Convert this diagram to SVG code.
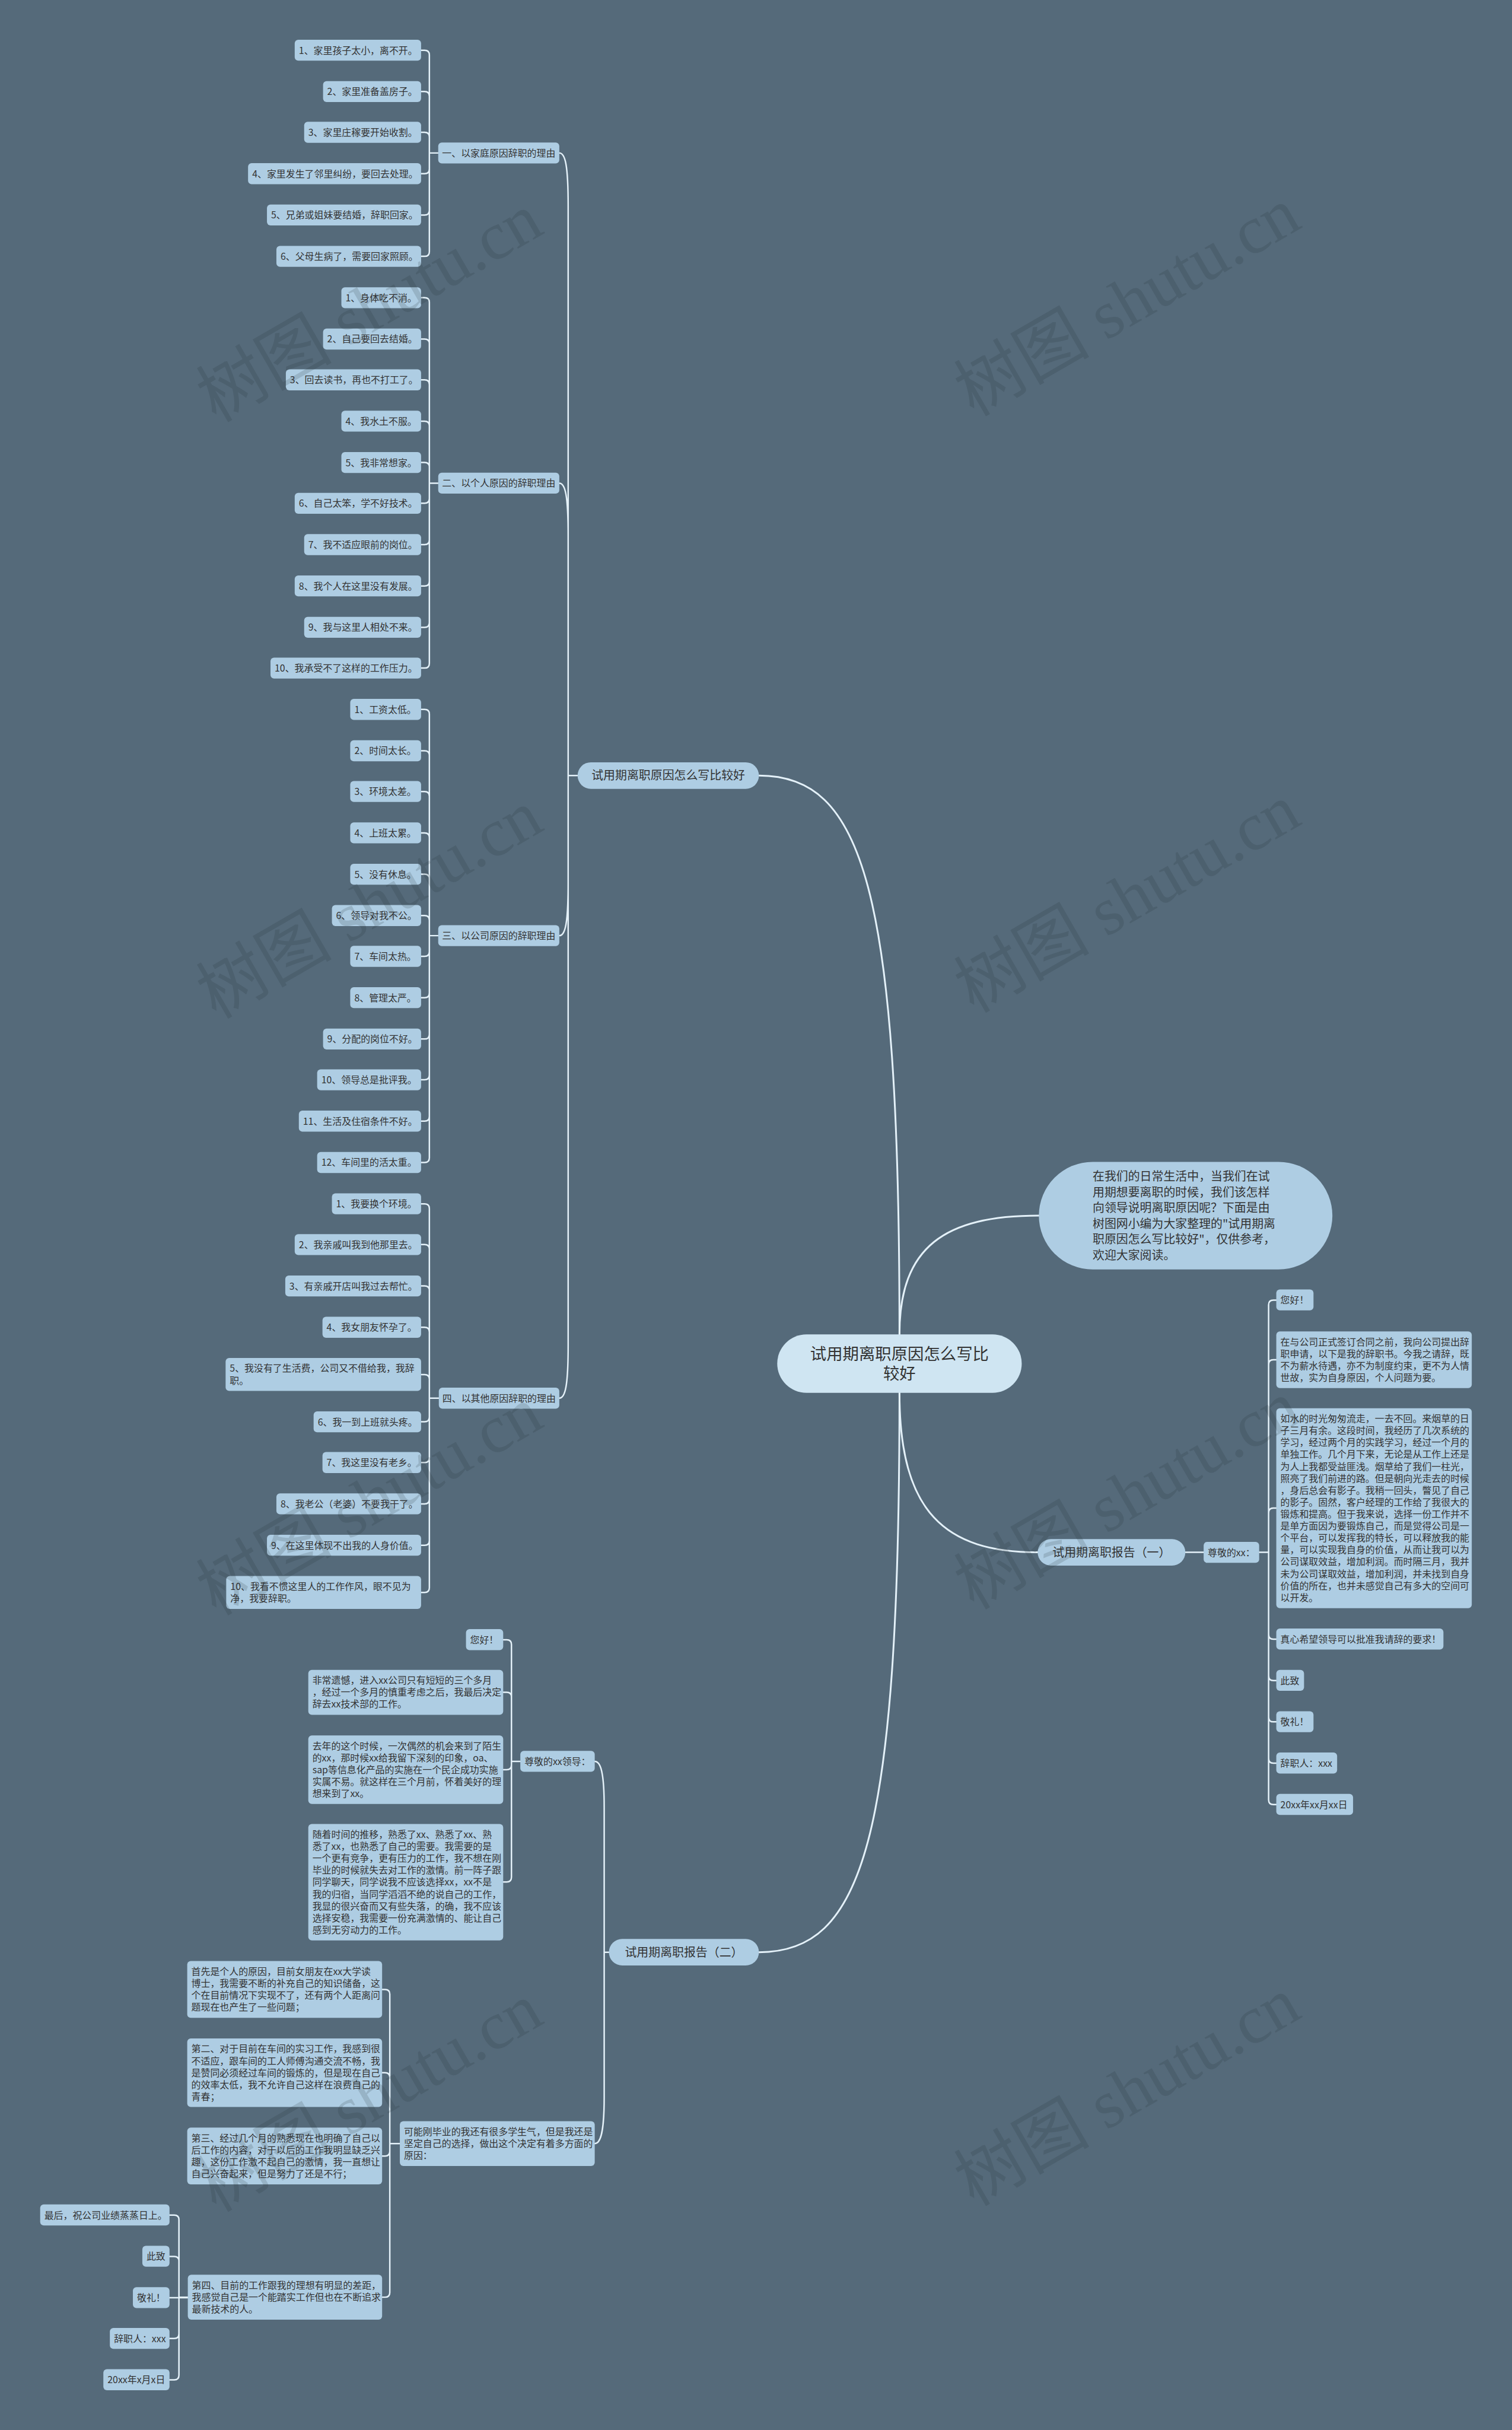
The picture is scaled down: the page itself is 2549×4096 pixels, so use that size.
<svg xmlns="http://www.w3.org/2000/svg" width="2549" height="4096" viewBox="0 0 2549 4096">
<style>
.t{font-family:"Noto Sans CJK SC","Liberation Sans",sans-serif;font-size:16px;fill:#333333}
.t20{font-family:"Noto Sans CJK SC","Liberation Sans",sans-serif;font-size:20px;fill:#333333}
.troot{font-family:"Noto Sans CJK SC","Liberation Sans",sans-serif;font-size:27.5px;fill:#333333}
.leaf{fill:#aecde3}
.root{fill:#cfe5f2}
.ln{fill:none;stroke:#e4f1f9;stroke-width:2.5;stroke-linecap:round}
.ln3{fill:none;stroke:#e4f1f9;stroke-width:3;stroke-linecap:round}
.wm{font-family:"Liberation Serif","Noto Sans CJK SC",serif;font-size:115px;fill:#1e2a33;fill-opacity:0.16}
</style>
<rect x="0" y="0" width="2549" height="4096" fill="#556a7a"/>
<g transform="scale(0.99566)">
<g id="connectors">
<path class="ln3" d="M1285 1313C1460 1313 1523 1500 1523 2259"/>
<path class="ln3" d="M1523 2259C1523 2110 1600 2058 1759 2058"/>
<path class="ln3" d="M1523 2358C1523 2560 1600 2628 1757 2628"/>
<path class="ln3" d="M1523 2358C1523 3120 1460 3305 1285 3305"/>
<path class="ln" d="M947 259C957 259 962 279 962 349V1313M947 818C957 818 962 838 962 908V1313M947 1584C957 1584 962 1564 962 1494V1313M947 2367C957 2367 962 2347 962 2277V1313M962 1313H978"/>
<path class="ln" d="M713 85H719Q727 85 727 93V259M713 155H719Q727 155 727 163V259M713 224H719Q727 224 727 232V259M713 294H719Q727 294 727 286V259M713 364H719Q727 364 727 356V259M713 434H719Q727 434 727 426V259M727 259H742"/>
<path class="ln" d="M713 504H719Q727 504 727 512V818M713 574H719Q727 574 727 582V818M713 643H719Q727 643 727 651V818M713 713H719Q727 713 727 721V818M713 783H719Q727 783 727 791V818M713 852H719Q727 852 727 844V818M713 922H719Q727 922 727 914V818M713 992H719Q727 992 727 984V818M713 1062H719Q727 1062 727 1054V818M713 1131H719Q727 1131 727 1123V818M727 818H742"/>
<path class="ln" d="M713 1201H719Q727 1201 727 1209V1584M713 1271H719Q727 1271 727 1279V1584M713 1340H719Q727 1340 727 1348V1584M713 1410H719Q727 1410 727 1418V1584M713 1480H719Q727 1480 727 1488V1584M713 1550H719Q727 1550 727 1558V1584M713 1619H719Q727 1619 727 1611V1584M713 1689H719Q727 1689 727 1681V1584M713 1759H719Q727 1759 727 1751V1584M713 1828H719Q727 1828 727 1820V1584M713 1898H719Q727 1898 727 1890V1584M713 1968H719Q727 1968 727 1960V1584M727 1584H742"/>
<path class="ln" d="M713 2038H719Q727 2038 727 2046V2367M713 2107H719Q727 2107 727 2115V2367M713 2177H719Q727 2177 727 2185V2367M713 2247H719Q727 2247 727 2255V2367M713 2327H719Q727 2327 727 2335V2367M713 2407H719Q727 2407 727 2399V2367M713 2476H719Q727 2476 727 2468V2367M713 2546H719Q727 2546 727 2538V2367M713 2616H719Q727 2616 727 2608V2367M713 2696H719Q727 2696 727 2688V2367M727 2367H743"/>
<path class="ln" d="M2007 2628H2038M2132 2628H2148M2161 2201H2156Q2148 2201 2148 2209V2628M2161 2302H2156Q2148 2302 2148 2310V2628M2161 2553H2156Q2148 2553 2148 2561V2628M2161 2775H2156Q2148 2775 2148 2767V2628M2161 2845H2156Q2148 2845 2148 2837V2628M2161 2915H2156Q2148 2915 2148 2907V2628M2161 2985H2156Q2148 2985 2148 2977V2628M2161 3055H2156Q2148 3055 2148 3047V2628"/>
<path class="ln" d="M1007 2982C1017 2982 1023 3000 1023 3060V3305M1007 3629C1017 3629 1023 3610 1023 3550V3305M1023 3305H1031"/>
<path class="ln" d="M852 2776H858Q866 2776 866 2784V2982M852 2865H858Q866 2865 866 2873V2982M852 2996H858Q866 2996 866 2988V2982M852 3186H858Q866 3186 866 3178V2982M866 2982H881"/>
<path class="ln" d="M647 3368H652Q660 3368 660 3376V3629M647 3509H652Q660 3509 660 3517V3629M647 3650H652Q660 3650 660 3642V3629M647 3889H652Q660 3889 660 3881V3629M660 3629H677"/>
<path class="ln" d="M287 3750H295Q303 3750 303 3758V3889M287 3820H295Q303 3820 303 3828V3889M287 3890H318M287 3959H295Q303 3959 303 3951V3889M287 4029H295Q303 4029 303 4021V3889M303 3889H318"/>
</g>

<g id="root"><rect class="root" x="1316" y="2259" width="414" height="99" rx="49.5"/><text class="troot" text-anchor="middle"><tspan x="1523" y="2301.5">试用期离职原因怎么写比</tspan><tspan x="1523" y="2335.5">较好</tspan></text></g>

<g id="intro"><rect class="leaf" x="1759" y="1967" width="497" height="182" rx="91"/><text class="t20"><tspan x="1850" y="1999">在我们的日常生活中，当我们在试</tspan><tspan x="1850" y="2025.6">用期想要离职的时候，我们该怎样</tspan><tspan x="1850" y="2052.2">向领导说明离职原因呢？下面是由</tspan><tspan x="1850" y="2078.8">树图网小编为大家整理的"试用期离</tspan><tspan x="1850" y="2105.4">职原因怎么写比较好"，仅供参考，</tspan><tspan x="1850" y="2132">欢迎大家阅读。</tspan></text></g>

<g id="l1-reasons"><rect class="leaf" x="978" y="1290.5" width="307" height="45" rx="22.5"/><text class="t20" x="1131.5" y="1320" text-anchor="middle">试用期离职原因怎么写比较好</text></g>
<g id="l1-report1"><rect class="leaf" x="1757" y="2605.5" width="250" height="45" rx="22.5"/><text class="t20" x="1882" y="2635" text-anchor="middle">试用期离职报告（一）</text></g>
<g id="l1-report2"><rect class="leaf" x="1031" y="3282.5" width="254" height="45" rx="22.5"/><text class="t20" x="1158" y="3312" text-anchor="middle">试用期离职报告（二）</text></g>

<g id="b1"><rect class="leaf" x="742" y="241.25" width="205" height="35.5" rx="6"/><text class="t" x="844.5" y="265" text-anchor="middle">一、以家庭原因辞职的理由</text></g>
<g id="b2"><rect class="leaf" x="742" y="800.25" width="205" height="35.5" rx="6"/><text class="t" x="844.5" y="824" text-anchor="middle">二、以个人原因的辞职理由</text></g>
<g id="b3"><rect class="leaf" x="742" y="1566.25" width="205" height="35.5" rx="6"/><text class="t" x="844.5" y="1590" text-anchor="middle">三、以公司原因的辞职理由</text></g>
<g id="b4"><rect class="leaf" x="743" y="2349.25" width="204" height="35.5" rx="6"/><text class="t" x="845" y="2373" text-anchor="middle">四、以其他原因辞职的理由</text></g>

<g id="b1-1"><rect class="leaf" x="499" y="67.25" width="214" height="35.5" rx="6"/><text class="t" x="506" y="91">1、家里孩子太小，离不开。</text></g>
<g id="b1-2"><rect class="leaf" x="547" y="137.25" width="166" height="35.5" rx="6"/><text class="t" x="554" y="161">2、家里准备盖房子。</text></g>
<g id="b1-3"><rect class="leaf" x="515" y="206.25" width="198" height="35.5" rx="6"/><text class="t" x="522" y="230">3、家里庄稼要开始收割。</text></g>
<g id="b1-4"><rect class="leaf" x="420" y="276.25" width="293" height="35.5" rx="6"/><text class="t" x="427" y="300">4、家里发生了邻里纠纷，要回去处理。</text></g>
<g id="b1-5"><rect class="leaf" x="452" y="346.25" width="261" height="35.5" rx="6"/><text class="t" x="459" y="370">5、兄弟或姐妹要结婚，辞职回家。</text></g>
<g id="b1-6"><rect class="leaf" x="468" y="416.25" width="245" height="35.5" rx="6"/><text class="t" x="475" y="440">6、父母生病了，需要回家照顾。</text></g>

<g id="b2-1"><rect class="leaf" x="578" y="486.25" width="135" height="35.5" rx="6"/><text class="t" x="585" y="510">1、身体吃不消。</text></g>
<g id="b2-2"><rect class="leaf" x="547" y="556.25" width="166" height="35.5" rx="6"/><text class="t" x="554" y="580">2、自己要回去结婚。</text></g>
<g id="b2-3"><rect class="leaf" x="484" y="625.25" width="229" height="35.5" rx="6"/><text class="t" x="491" y="649">3、回去读书，再也不打工了。</text></g>
<g id="b2-4"><rect class="leaf" x="578" y="695.25" width="135" height="35.5" rx="6"/><text class="t" x="585" y="719">4、我水土不服。</text></g>
<g id="b2-5"><rect class="leaf" x="578" y="765.25" width="135" height="35.5" rx="6"/><text class="t" x="585" y="789">5、我非常想家。</text></g>
<g id="b2-6"><rect class="leaf" x="499" y="834.25" width="214" height="35.5" rx="6"/><text class="t" x="506" y="858">6、自己太笨，学不好技术。</text></g>
<g id="b2-7"><rect class="leaf" x="515" y="904.25" width="198" height="35.5" rx="6"/><text class="t" x="522" y="928">7、我不适应眼前的岗位。</text></g>
<g id="b2-8"><rect class="leaf" x="499" y="974.25" width="214" height="35.5" rx="6"/><text class="t" x="506" y="998">8、我个人在这里没有发展。</text></g>
<g id="b2-9"><rect class="leaf" x="515" y="1044.25" width="198" height="35.5" rx="6"/><text class="t" x="522" y="1068">9、我与这里人相处不来。</text></g>
<g id="b2-10"><rect class="leaf" x="458" y="1113.25" width="255" height="35.5" rx="6"/><text class="t" x="465" y="1137">10、我承受不了这样的工作压力。</text></g>

<g id="b3-1"><rect class="leaf" x="593" y="1183.25" width="120" height="35.5" rx="6"/><text class="t" x="600" y="1207">1、工资太低。</text></g>
<g id="b3-2"><rect class="leaf" x="593" y="1253.25" width="120" height="35.5" rx="6"/><text class="t" x="600" y="1277">2、时间太长。</text></g>
<g id="b3-3"><rect class="leaf" x="593" y="1322.25" width="120" height="35.5" rx="6"/><text class="t" x="600" y="1346">3、环境太差。</text></g>
<g id="b3-4"><rect class="leaf" x="593" y="1392.25" width="120" height="35.5" rx="6"/><text class="t" x="600" y="1416">4、上班太累。</text></g>
<g id="b3-5"><rect class="leaf" x="593" y="1462.25" width="120" height="35.5" rx="6"/><text class="t" x="600" y="1486">5、没有休息。</text></g>
<g id="b3-6"><rect class="leaf" x="562" y="1532.25" width="151" height="35.5" rx="6"/><text class="t" x="569" y="1556">6、领导对我不公。</text></g>
<g id="b3-7"><rect class="leaf" x="593" y="1601.25" width="120" height="35.5" rx="6"/><text class="t" x="600" y="1625">7、车间太热。</text></g>
<g id="b3-8"><rect class="leaf" x="593" y="1671.25" width="120" height="35.5" rx="6"/><text class="t" x="600" y="1695">8、管理太严。</text></g>
<g id="b3-9"><rect class="leaf" x="547" y="1741.25" width="166" height="35.5" rx="6"/><text class="t" x="554" y="1765">9、分配的岗位不好。</text></g>
<g id="b3-10"><rect class="leaf" x="537" y="1810.25" width="176" height="35.5" rx="6"/><text class="t" x="544" y="1834">10、领导总是批评我。</text></g>
<g id="b3-11"><rect class="leaf" x="506" y="1880.25" width="207" height="35.5" rx="6"/><text class="t" x="513" y="1904">11、生活及住宿条件不好。</text></g>
<g id="b3-12"><rect class="leaf" x="537" y="1950.25" width="176" height="35.5" rx="6"/><text class="t" x="544" y="1974">12、车间里的活太重。</text></g>

<g id="b4-1"><rect class="leaf" x="562" y="2020.25" width="151" height="35.5" rx="6"/><text class="t" x="569" y="2044">1、我要换个环境。</text></g>
<g id="b4-2"><rect class="leaf" x="499" y="2089.25" width="214" height="35.5" rx="6"/><text class="t" x="506" y="2113">2、我亲戚叫我到他那里去。</text></g>
<g id="b4-3"><rect class="leaf" x="483" y="2159.25" width="230" height="35.5" rx="6"/><text class="t" x="490" y="2183">3、有亲戚开店叫我过去帮忙。</text></g>
<g id="b4-4"><rect class="leaf" x="546" y="2229.25" width="167" height="35.5" rx="6"/><text class="t" x="553" y="2253">4、我女朋友怀孕了。</text></g>
<g id="b4-5"><rect class="leaf" x="382" y="2299" width="331" height="55.7" rx="6"/><text class="t"><tspan x="389" y="2322.5">5、我没有了生活费，公司又不借给我，我辞</tspan><tspan x="389" y="2342.7">职。</tspan></text></g>
<g id="b4-6"><rect class="leaf" x="531" y="2389.25" width="182" height="35.5" rx="6"/><text class="t" x="538" y="2413">6、我一到上班就头疼。</text></g>
<g id="b4-7"><rect class="leaf" x="546" y="2458.25" width="167" height="35.5" rx="6"/><text class="t" x="553" y="2482">7、我这里没有老乡。</text></g>
<g id="b4-8"><rect class="leaf" x="468" y="2528.25" width="245" height="35.5" rx="6"/><text class="t" x="475" y="2552">8、我老公（老婆）不要我干了。</text></g>
<g id="b4-9"><rect class="leaf" x="452" y="2598.25" width="261" height="35.5" rx="6"/><text class="t" x="459" y="2622">9、在这里体现不出我的人身价值。</text></g>
<g id="b4-10"><rect class="leaf" x="383" y="2668" width="330" height="55.7" rx="6"/><text class="t"><tspan x="390" y="2691.5">10、我看不惯这里人的工作作风，眼不见为</tspan><tspan x="390" y="2711.7">净，我要辞职。</tspan></text></g>

<g id="r1-head"><rect class="leaf" x="2038" y="2610.25" width="94" height="35.5" rx="6"/><text class="t" x="2045" y="2634">尊敬的xx：</text></g>
<g id="r1-1"><rect class="leaf" x="2161" y="2183" width="63" height="35.5" rx="6"/><text class="t" x="2168" y="2207">您好！</text></g>
<g id="r1-2"><rect class="leaf" x="2161" y="2254" width="331" height="96" rx="6"/><text class="t"><tspan x="2168" y="2277.5">在与公司正式签订合同之前，我向公司提出辞</tspan><tspan x="2168" y="2297.7">职申请，以下是我的辞职书。今我之请辞，既</tspan><tspan x="2168" y="2317.9">不为薪水待遇，亦不为制度约束，更不为人情</tspan><tspan x="2168" y="2338.1">世故，实为自身原因，个人问题为要。</tspan></text></g>
<g id="r1-3"><rect class="leaf" x="2161" y="2384" width="331" height="338.5" rx="6"/><text class="t"><tspan x="2168" y="2407.5">如水的时光匆匆流走，一去不回。来烟草的日</tspan><tspan x="2168" y="2427.7">子三月有余。这段时间，我经历了几次系统的</tspan><tspan x="2168" y="2447.9">学习，经过两个月的实践学习，经过一个月的</tspan><tspan x="2168" y="2468.1">单独工作。几个月下来，无论是从工作上还是</tspan><tspan x="2168" y="2488.3">为人上我都受益匪浅。烟草给了我们一柱光，</tspan><tspan x="2168" y="2508.5">照亮了我们前进的路。但是朝向光走去的时候</tspan><tspan x="2168" y="2528.7">，身后总会有影子。我稍一回头，瞥见了自己</tspan><tspan x="2168" y="2548.9">的影子。固然，客户经理的工作给了我很大的</tspan><tspan x="2168" y="2569.1">锻炼和提高。但于我来说，选择一份工作并不</tspan><tspan x="2168" y="2589.3">是单方面因为要锻炼自己，而是觉得公司是一</tspan><tspan x="2168" y="2609.5">个平台，可以发挥我的特长，可以释放我的能</tspan><tspan x="2168" y="2629.7">量，可以实现我自身的价值，从而让我可以为</tspan><tspan x="2168" y="2649.9">公司谋取效益，增加利润。而时隔三月，我并</tspan><tspan x="2168" y="2670.1">未为公司谋取效益，增加利润，并未找到自身</tspan><tspan x="2168" y="2690.3">价值的所在，也并未感觉自己有多大的空间可</tspan><tspan x="2168" y="2710.5">以开发。</tspan></text></g>
<g id="r1-4"><rect class="leaf" x="2161" y="2757" width="283" height="35.5" rx="6"/><text class="t" x="2168" y="2781">真心希望领导可以批准我请辞的要求！</text></g>
<g id="r1-5"><rect class="leaf" x="2161" y="2827" width="47" height="35.5" rx="6"/><text class="t" x="2168" y="2851">此致</text></g>
<g id="r1-6"><rect class="leaf" x="2161" y="2897" width="63" height="35.5" rx="6"/><text class="t" x="2168" y="2921">敬礼！</text></g>
<g id="r1-7"><rect class="leaf" x="2161" y="2967" width="103" height="35.5" rx="6"/><text class="t" x="2168" y="2991">辞职人：xxx</text></g>
<g id="r1-8"><rect class="leaf" x="2161" y="3037" width="130" height="35.5" rx="6"/><text class="t" x="2168" y="3061">20xx年xx月xx日</text></g>

<g id="r2-head"><rect class="leaf" x="881" y="2964" width="126" height="35.5" rx="6"/><text class="t" x="888" y="2988">尊敬的xx领导：</text></g>
<g id="r2-1"><rect class="leaf" x="789" y="2758" width="63" height="35.5" rx="6"/><text class="t" x="796" y="2782">您好！</text></g>
<g id="r2-2"><rect class="leaf" x="522" y="2827" width="330" height="76" rx="6"/><text class="t"><tspan x="529" y="2850.5">非常遗憾，进入xx公司只有短短的三个多月</tspan><tspan x="529" y="2870.7">，经过一个多月的慎重考虑之后，我最后决定</tspan><tspan x="529" y="2890.9">辞去xx技术部的工作。</tspan></text></g>
<g id="r2-3"><rect class="leaf" x="522" y="2938" width="330" height="116" rx="6"/><text class="t"><tspan x="529" y="2961.5">去年的这个时候，一次偶然的机会来到了陌生</tspan><tspan x="529" y="2981.7">的xx，那时候xx给我留下深刻的印象，oa、</tspan><tspan x="529" y="3001.9">sap等信息化产品的实施在一个民企成功实施</tspan><tspan x="529" y="3022.1">实属不易。就这样在三个月前，怀着美好的理</tspan><tspan x="529" y="3042.3">想来到了xx。</tspan></text></g>
<g id="r2-4"><rect class="leaf" x="522" y="3088" width="330" height="197" rx="6"/><text class="t"><tspan x="529" y="3111.5">随着时间的推移，熟悉了xx、熟悉了xx、熟</tspan><tspan x="529" y="3131.7">悉了xx，也熟悉了自己的需要。我需要的是</tspan><tspan x="529" y="3151.9">一个更有竞争，更有压力的工作，我不想在刚</tspan><tspan x="529" y="3172.1">毕业的时候就失去对工作的激情。前一阵子跟</tspan><tspan x="529" y="3192.3">同学聊天，同学说我不应该选择xx，xx不是</tspan><tspan x="529" y="3212.5">我的归宿，当同学滔滔不绝的说自己的工作，</tspan><tspan x="529" y="3232.7">我显的很兴奋而又有些失落，的确，我不应该</tspan><tspan x="529" y="3252.9">选择安稳，我需要一份充满激情的、能让自己</tspan><tspan x="529" y="3273.1">感到无穷动力的工作。</tspan></text></g>

<g id="r2-reason"><rect class="leaf" x="677" y="3591" width="330" height="76" rx="6"/><text class="t"><tspan x="684" y="3614.5">可能刚毕业的我还有很多学生气，但是我还是</tspan><tspan x="684" y="3634.7">坚定自己的选择，做出这个决定有着多方面的</tspan><tspan x="684" y="3654.9">原因：</tspan></text></g>
<g id="r2-c1"><rect class="leaf" x="317" y="3320" width="330" height="96" rx="6"/><text class="t"><tspan x="324" y="3343.5">首先是个人的原因，目前女朋友在xx大学读</tspan><tspan x="324" y="3363.7">博士，我需要不断的补充自己的知识储备，这</tspan><tspan x="324" y="3383.9">个在目前情况下实现不了，还有两个人距离问</tspan><tspan x="324" y="3404.1">题现在也产生了一些问题；</tspan></text></g>
<g id="r2-c2"><rect class="leaf" x="317" y="3451" width="330" height="116" rx="6"/><text class="t"><tspan x="324" y="3474.5">第二、对于目前在车间的实习工作，我感到很</tspan><tspan x="324" y="3494.7">不适应，跟车间的工人师傅沟通交流不畅，我</tspan><tspan x="324" y="3514.9">是赞同必须经过车间的锻炼的，但是现在自己</tspan><tspan x="324" y="3535.1">的效率太低，我不允许自己这样在浪费自己的</tspan><tspan x="324" y="3555.3">青春；</tspan></text></g>
<g id="r2-c3"><rect class="leaf" x="317" y="3602" width="330" height="96" rx="6"/><text class="t"><tspan x="324" y="3625.5">第三、经过几个月的熟悉现在也明确了自己以</tspan><tspan x="324" y="3645.7">后工作的内容，对于以后的工作我明显缺乏兴</tspan><tspan x="324" y="3665.9">趣，这份工作激不起自己的激情，我一直想让</tspan><tspan x="324" y="3686.1">自己兴奋起来，但是努力了还是不行；</tspan></text></g>
<g id="r2-c4"><rect class="leaf" x="318" y="3851" width="329" height="76" rx="6"/><text class="t"><tspan x="325" y="3874.5">第四、目前的工作跟我的理想有明显的差距，</tspan><tspan x="325" y="3894.7">我感觉自己是一个能踏实工作但也在不断追求</tspan><tspan x="325" y="3914.9">最新技术的人。</tspan></text></g>
<g id="r2-d1"><rect class="leaf" x="68" y="3732" width="219" height="35.5" rx="6"/><text class="t" x="75" y="3756">最后，祝公司业绩蒸蒸日上。</text></g>
<g id="r2-d2"><rect class="leaf" x="241" y="3802" width="46" height="35.5" rx="6"/><text class="t" x="248" y="3826">此致</text></g>
<g id="r2-d3"><rect class="leaf" x="225" y="3872" width="62" height="35.5" rx="6"/><text class="t" x="232" y="3896">敬礼！</text></g>
<g id="r2-d4"><rect class="leaf" x="186" y="3941" width="101" height="35.5" rx="6"/><text class="t" x="193" y="3965">辞职人：xxx</text></g>
<g id="r2-d5"><rect class="leaf" x="175" y="4011" width="112" height="35.5" rx="6"/><text class="t" x="182" y="4035">20xx年x月x日</text></g>

<g id="watermarks">
<text class="wm" text-anchor="middle" transform="translate(645 555) rotate(-30)">树图 shutu.cn</text>
<text class="wm" text-anchor="middle" transform="translate(1928 545) rotate(-30)">树图 shutu.cn</text>
<text class="wm" text-anchor="middle" transform="translate(645 1565) rotate(-30)">树图 shutu.cn</text>
<text class="wm" text-anchor="middle" transform="translate(1928 1555) rotate(-30)">树图 shutu.cn</text>
<text class="wm" text-anchor="middle" transform="translate(645 2575) rotate(-30)">树图 shutu.cn</text>
<text class="wm" text-anchor="middle" transform="translate(1928 2565) rotate(-30)">树图 shutu.cn</text>
<text class="wm" text-anchor="middle" transform="translate(645 3585) rotate(-30)">树图 shutu.cn</text>
<text class="wm" text-anchor="middle" transform="translate(1928 3575) rotate(-30)">树图 shutu.cn</text>
</g>
</g>
</svg>
